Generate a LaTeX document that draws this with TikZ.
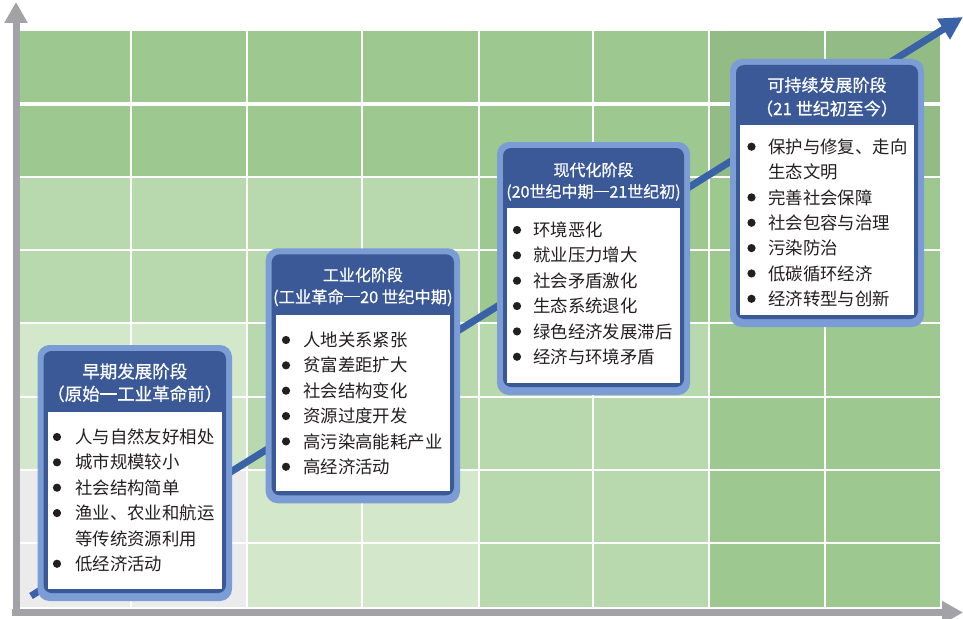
\documentclass[tikz,border=0pt]{standalone}
\usepackage{fontspec}
\setmainfont{Noto Sans CJK SC}
\newfontfamily\headfont[FakeBold=0.6]{Noto Sans CJK SC}
\usetikzlibrary{arrows.meta}

\definecolor{lvA}{HTML}{EBEBEB}
\definecolor{lvB}{HTML}{D3E8CB}
\definecolor{lvC}{HTML}{B8D8AD}
\definecolor{lvD}{HTML}{9DC890}
\definecolor{lvE}{HTML}{93BB86}
\definecolor{axisgray}{HTML}{A2A2A7}
\definecolor{framelb}{HTML}{7B9CD5}
\definecolor{framedb}{HTML}{3A5996}
\definecolor{arrowblue}{HTML}{3A62A7}
\definecolor{bodytext}{HTML}{231F20}

\newcommand\longdash{\makebox[1em][c]{\rule[0.34em]{0.98em}{0.07em}}}

% #1 name, #2 left, #3 top, #4 right, #5 bottom, #6 body top
\newcommand\mystage[6]{%
  \node[name=#1, fill=framelb, rounded corners=12pt, inner sep=0pt, outer sep=0pt,
        minimum width={(#4-#2)*1pt}, minimum height={(#5-#3)*1pt}]
        at ({(#2+#4)/2},{(#3+#5)/2}) {};
  \fill[framedb, rounded corners=8pt] ({#2+6},{#3+6}) rectangle ({#4-6},{#5-8});
  \fill[white] ({#2+10},#6) rectangle ({#4-10},{#5-12});
}
% #1 name prefix, #2 bullet x, #3 text x, #4 first baseline, #5 items flag/text
\newcommand\mylines[5]{%
  \foreach \flag/\txt [count=\i from 0] in {#5} {
    \node[bodytxt, name=#1\i] at (#3,{#4+\i*25.35}) {\txt};
    \ifnum\flag=1 \fill[bodytext] (#2,{#4+\i*25.35-6.6}) circle (4.1pt);\fi
  }
}

\begin{document}
\begin{tikzpicture}[x=1pt,y=-1pt,
  gridline/.style={white, line width=1.6pt},
  axisline/.style={axisgray, line width=7pt, -{Triangle[length=21pt,width=22pt]}},
  trendline/.style={arrowblue, line width=7pt, -{Triangle[length=23pt,width=23pt]}},
  headtxt/.style={text=white, anchor=base, inner sep=0pt},
  bodytxt/.style={text=bodytext, anchor=base west, inner sep=0pt,
                  font=\fontsize{17.4pt}{20pt}\selectfont},
]
\useasboundingbox (0,0) rectangle (963,618);

% ---- grid background
\fill[lvD] (20,31) rectangle (709,177);
\fill[lvE] (709,31) rectangle (940,177);
\fill[lvC] (20,177) rectangle (479,323);
\fill[lvD] (479,177) rectangle (940,323);
\fill[lvB] (20,323) rectangle (247,470);
\fill[lvC] (247,323) rectangle (709,470);
\fill[lvD] (709,323) rectangle (940,607);
\fill[lvA] (20,470) rectangle (247,607);
\fill[lvB] (247,470) rectangle (479,607);
\fill[lvC] (479,470) rectangle (709,607);

\foreach \x in {131,247,362,479,593,709,825}
  \draw[gridline] (\x,31) -- (\x,607);
\foreach \y in {177,250,323,397,470,543}
  \draw[gridline] (20,\y) -- (940,\y);
\draw[gridline, line width=4pt] (20,104) -- (940,104);

% ---- axes
\coordinate (ybase) at (16,616);
\coordinate (ytip) at (16,2);
\coordinate (xbase) at (12,612.5);
\coordinate (xtip) at (963,612.5);
\draw[axisline] (ybase) -- (ytip);
\draw[axisline] (xbase) -- (xtip);

% ---- trend arrow
\coordinate (trendstart) at (31,596);
\coordinate (trendend) at (963,17);
\draw[trendline] (trendstart) -- (trendend);

% ---- stage boxes
\mystage{s1}{37.5}{345}{232}{601}{412}
\mystage{s2}{265.7}{248.3}{460}{503.3}{315}
\mystage{s3}{497}{142}{690}{395}{208}
\mystage{s4}{730}{59}{924}{327}{125}

% headers
\node[headtxt, name=h1a, font=\headfont\fontsize{17.5pt}{20pt}\selectfont] at (134.75,378) {早期发展阶段};
\node[headtxt, name=h1b, font=\headfont\fontsize{17.5pt}{20pt}\selectfont] at (134.75,400.5) {（原始\longdash 工业革命前）};
\node[headtxt, name=h2a, font=\headfont\fontsize{16pt}{20pt}\selectfont] at (362.85,281) {工业化阶段};
\node[headtxt, name=h2b, font=\headfont\fontsize{16.3pt}{20pt}\selectfont] at (362.85,303) {(工业革命\longdash 20 世纪中期)};
\node[headtxt, name=h3a, font=\headfont\fontsize{16pt}{20pt}\selectfont] at (593.5,176) {现代化阶段};
\node[headtxt, name=h3b, font=\headfont\fontsize{16pt}{20pt}\selectfont] at (593.5,197.5) {(20世纪中期\longdash 21世纪初)};
\node[headtxt, name=h4a, font=\headfont\fontsize{17pt}{20pt}\selectfont] at (827,91.5) {可持续发展阶段};
\node[headtxt, name=h4b, font=\headfont\fontsize{17pt}{20pt}\selectfont] at (827,115) {（21 世纪初至今）};

% bodies
\mylines{b1l}{57}{75}{443.6}{1/人与自然友好相处, 1/城市规模较小, 1/社会结构简单, 1/渔业、农业和航运, 0/等传统资源利用, 1/低经济活动}
\mylines{b2l}{286}{303}{346.6}{1/人地关系紧张, 1/贫富差距扩大, 1/社会结构变化, 1/资源过度开发, 1/高污染高能耗产业, 1/高经济活动}
\mylines{b3l}{517}{533}{236.6}{1/环境恶化, 1/就业压力增大, 1/社会矛盾激化, 1/生态系统退化, 1/绿色经济发展滞后, 1/经济与环境矛盾}
\mylines{b4l}{751.5}{768}{153.3}{1/保护与修复、走向, 0/生态文明, 1/完善社会保障, 1/社会包容与治理, 1/污染防治, 1/低碳循环经济, 1/经济转型与创新}
\end{tikzpicture}
\end{document}
